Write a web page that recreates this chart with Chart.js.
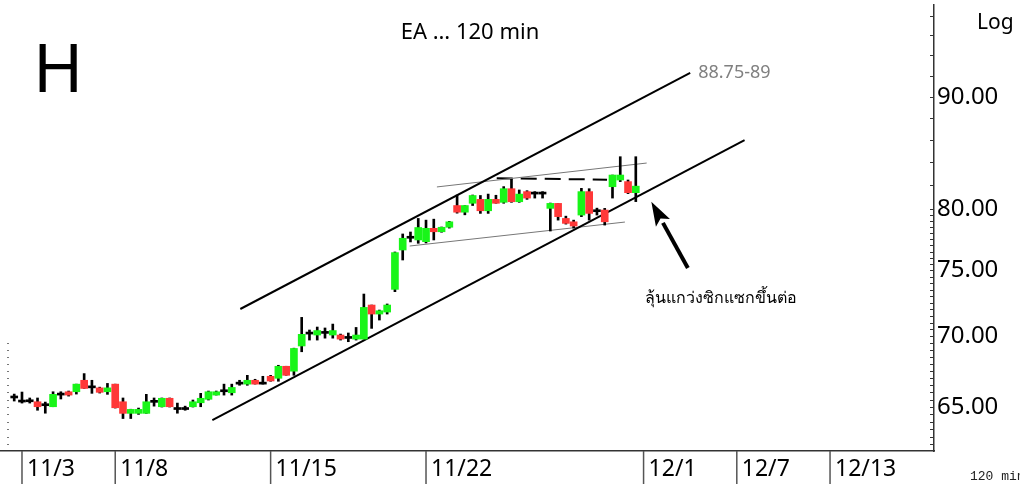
<!DOCTYPE html>
<html>
<head>
<meta charset="utf-8">
<script src="https://cdn.jsdelivr.net/npm/chart.js@4.4.0/dist/chart.umd.min.js"></script>
<style>
    html, body { margin: 0; padding: 0; background: #fff; }
    #wrap { position: relative; width: 1020px; height: 484px; }
</style>
</head>
<body>
<div id="wrap"><canvas id="chart"></canvas></div>
<script>
// EA 120 min bars, one value per bar (bar index = position in array)
const opens = [
    65.61, 65.33, 65.35, 65.35, 65.08, 65.01, 65.81, 66.04, 66.04, 66.84,
    66.31, 66.31, 66.04, 66.57, 65.35, 64.56, 64.56, 64.56, 65.31, 65.01,
    65.59, 64.82, 64.82, 65.01, 65.28, 65.52, 65.81, 66.04, 65.97, 66.57,
    66.57, 66.84, 66.57, 67.12, 66.98, 67.83, 67.48, 69.29, 70.16, 70.09,
    70.21, 70.09, 70.09, 69.84, 69.79, 69.79, 72.33, 71.65, 71.80, 73.53,
    76.63, 77.58, 77.44, 77.30, 78.39, 78.11, 78.48, 80.29, 79.73, 80.48,
    80.81, 79.85, 80.81, 80.56, 81.72, 80.61, 81.47, 81.26, 81.26, 80.05,
    80.47, 79.21, 78.93, 79.49, 81.47, 79.77, 79.91, 81.89, 82.47, 82.33,
    81.38
];
const highs = [
    65.88, 66.02, 65.61, 65.61, 65.33, 66.04, 66.04, 66.09, 66.57, 67.31,
    66.84, 66.36, 66.62, 66.57, 65.61, 64.84, 64.92, 65.86, 65.61, 65.61,
    65.61, 65.26, 65.05, 65.47, 65.93, 66.09, 66.09, 66.57, 66.57, 66.84,
    67.19, 66.91, 67.12, 67.19, 67.90, 67.83, 69.13, 71.40, 70.46, 70.68,
    70.61, 70.90, 70.16, 70.24, 70.65, 73.17, 72.33, 71.95, 72.41, 76.47,
    77.93, 78.09, 79.21, 79.07, 79.15, 78.50, 78.97, 81.18, 80.29, 81.18,
    81.14, 81.26, 81.16, 81.90, 82.53, 81.61, 81.55, 81.47, 81.47, 80.50,
    80.47, 79.40, 79.07, 81.75, 81.72, 80.07, 80.05, 82.90, 84.51, 82.47,
    84.51
];
const lows = [
    65.40, 65.26, 65.26, 64.77, 64.57, 65.01, 65.54, 65.74, 65.88, 66.27,
    65.93, 65.95, 65.86, 64.92, 64.21, 64.21, 64.49, 64.56, 65.05, 64.99,
    64.99, 64.57, 64.77, 64.99, 65.01, 65.47, 65.81, 65.81, 65.81, 66.49,
    66.49, 66.57, 66.57, 66.77, 66.77, 67.19, 67.19, 68.87, 69.72, 69.72,
    69.86, 69.86, 69.72, 69.60, 69.72, 69.79, 70.58, 71.20, 71.65, 73.35,
    75.83, 77.28, 77.17, 77.20, 77.44, 78.07, 78.41, 79.65, 79.51, 80.29,
    79.63, 79.63, 80.48, 80.48, 80.56, 80.56, 80.81, 80.92, 80.92, 78.17,
    79.07, 78.74, 78.41, 79.36, 79.07, 79.49, 78.66, 80.92, 82.33, 81.30,
    80.62
];
const closes = [
    65.61, 65.33, 65.35, 65.01, 65.08, 65.86, 65.81, 65.81, 66.57, 66.27,
    66.31, 66.00, 66.31, 64.94, 64.56, 64.83, 64.83, 65.35, 65.31, 65.59,
    65.01, 64.82, 64.82, 65.35, 65.59, 66.04, 66.04, 66.04, 66.34, 66.57,
    66.84, 66.57, 66.57, 66.79, 67.83, 67.19, 69.11, 70.14, 70.16, 70.42,
    70.21, 70.42, 69.79, 69.84, 70.09, 72.15, 71.65, 71.90, 72.33, 76.42,
    77.58, 77.58, 78.46, 78.39, 78.11, 78.48, 78.93, 79.73, 80.29, 81.14,
    79.85, 80.81, 80.48, 81.72, 80.61, 81.26, 80.92, 81.26, 81.26, 80.47,
    79.36, 78.80, 78.58, 81.47, 79.63, 79.77, 78.93, 82.90, 82.90, 81.38,
    81.94
];

// date separators under the x axis (bar index where the day starts)
const dateTicks = [1, 13, 33, 53, 81, 93, 105];
const dateLabels = ['11/3', '11/8', '11/15', '11/22', '12/1', '12/7', '12/13'];

// price axis (log)
const priceTicks = [65, 70, 75, 80, 90];
const minorTicks = [];
for (let v = 62.5; v < 80; v += 0.5) minorTicks.push(v);
for (let v = 80; v <= 98; v += 2) minorTicks.push(v);

// drawn lines, [bar index, price]
const channelTop = [[29.1, 72.03], [87.0, 92.27]];
const channelBottom = [[25.5, 64.10], [94.0, 86.00]];
const thinTop = [[54.4, 81.87], [81.4, 83.95]];
const thinBottom = [[50.9, 76.95], [78.6, 78.91]];
const dashedTop = [[62.1, 82.62], [76.3, 82.50]];
const arrowPts = [[86.7, 75.2], [82.0, 80.6]];

const GREEN = '#19f519';
const RED = '#ff3838';

function toPoints(arr) {
    return arr.map(p => ({ x: p[0], y: p[1] }));
}

const bodies = opens.map((o, i) => ({ x: i, y: [o, closes[i]] }));
const bodyColors = opens.map((o, i) => closes[i] > o ? GREEN : (closes[i] < o ? RED : '#000'));
const wicks = lows.map((l, i) => ({ x: i, y: [l, highs[i]] }));

// extra drawing: minor ticks, arrow, texts, date axis
const decorPlugin = {
    id: 'decor',
    afterDraw(chart) {
        const ctx = chart.ctx;
        const xs = chart.scales.x;
        const ys = chart.scales.y;
        const area = chart.chartArea;
        ctx.save();

        // minor ticks on the price axis (inside) and small marks at left edge
        ctx.lineWidth = 1;
        minorTicks.forEach(v => {
            const py = Math.round(ys.getPixelForValue(v)) + 0.5;
            ctx.strokeStyle = '#333';
            ctx.beginPath();
            ctx.moveTo(area.right - 4, py);
            ctx.lineTo(area.right, py);
            ctx.stroke();
            if (v < 70) {
                ctx.strokeStyle = '#777';
                ctx.beginPath();
                ctx.moveTo(7, py);
                ctx.lineTo(9, py);
                ctx.stroke();
            }
        });

        // date separators and labels
        ctx.strokeStyle = '#555';
        ctx.lineWidth = 1.5;
        ctx.fillStyle = '#000';
        ctx.font = '23px "Noto Sans", sans-serif';
        ctx.textAlign = 'left';
        ctx.textBaseline = 'middle';
        dateTicks.forEach((t, i) => {
            const px = xs.getPixelForValue(t);
            ctx.beginPath();
            ctx.moveTo(px, area.bottom);
            ctx.lineTo(px, chart.height);
            ctx.stroke();
            ctx.fillText(dateLabels[i], px + 5, area.bottom + 18);
        });

        // arrow
        const tx = xs.getPixelForValue(arrowPts[0][0]);
        const ty = ys.getPixelForValue(arrowPts[0][1]);
        const hx = xs.getPixelForValue(arrowPts[1][0]);
        const hy = ys.getPixelForValue(arrowPts[1][1]);
        const ang = Math.atan2(hy - ty, hx - tx);
        const headLen = 24, headW = 8;
        const bx = hx - headLen * Math.cos(ang);
        const by = hy - headLen * Math.sin(ang);
        ctx.strokeStyle = '#000';
        ctx.lineWidth = 4;
        ctx.beginPath();
        ctx.moveTo(tx, ty);
        ctx.lineTo(bx, by);
        ctx.stroke();
        ctx.fillStyle = '#000';
        ctx.beginPath();
        ctx.moveTo(hx, hy);
        ctx.lineTo(bx + headW * Math.sin(ang), by - headW * Math.cos(ang));
        ctx.lineTo(bx + 5 * Math.cos(ang), by + 5 * Math.sin(ang));
        ctx.lineTo(bx - headW * Math.sin(ang), by + headW * Math.cos(ang));
        ctx.closePath();
        ctx.fill();

        // texts
        ctx.fillStyle = '#000';
        ctx.textBaseline = 'alphabetic';
        ctx.font = '68px "Noto Sans", sans-serif';
        ctx.fillText('H', 33, 92);

        ctx.textAlign = 'center';
        ctx.font = '22px "Noto Sans", sans-serif';
        ctx.fillText('EA … 120 min', 470, 39);

        ctx.textAlign = 'left';
        ctx.font = '21px "Noto Sans", sans-serif';
        ctx.fillText('Log', 977, 29);

        const ex = xs.getPixelForValue(channelTop[1][0]);
        const ey = ys.getPixelForValue(channelTop[1][1]);
        ctx.fillStyle = '#808080';
        ctx.font = '18px "Noto Sans", sans-serif';
        ctx.textBaseline = 'middle';
        ctx.fillText('88.75-89', ex + 8, ey);

        ctx.fillStyle = '#000';
        ctx.font = '16px "Noto Sans", sans-serif';
        ctx.fillText('ลุ้นแกว่งซิกแซกขึ้นต่อ', tx - 43, ty + 30);

        ctx.textBaseline = 'alphabetic';
        ctx.fillStyle = '#222';
        ctx.font = '13px "Liberation Mono", monospace';
        ctx.fillText('120 min', 970, 480);

        ctx.restore();
    }
};

new Chart(document.getElementById('chart').getContext('2d'), {
    type: 'bar',
    data: {
        datasets: [
            {
                label: 'body',
                data: bodies,
                backgroundColor: bodyColors,
                barThickness: 7,
                minBarLength: 2,
                grouped: false
            },
            {
                label: 'wick',
                data: wicks,
                backgroundColor: '#000',
                barThickness: 2,
                grouped: false
            },
            {
                type: 'line',
                data: toPoints(channelTop),
                borderColor: '#000',
                borderWidth: 2,
                pointRadius: 0
            },
            {
                type: 'line',
                data: toPoints(channelBottom),
                borderColor: '#000',
                borderWidth: 2,
                pointRadius: 0
            },
            {
                type: 'line',
                data: toPoints(thinTop),
                borderColor: '#777',
                borderWidth: 1,
                pointRadius: 0
            },
            {
                type: 'line',
                data: toPoints(thinBottom),
                borderColor: '#777',
                borderWidth: 1,
                pointRadius: 0
            },
            {
                type: 'line',
                data: toPoints(dashedTop),
                borderColor: '#000',
                borderWidth: 2,
                borderDash: [16, 8],
                pointRadius: 0
            }
        ]
    },
    options: {
        responsive: true,
        maintainAspectRatio: false,
        animation: false,
        layout: { padding: { top: 5, left: 0, right: 0, bottom: 0 } },
        plugins: {
            legend: { display: false },
            tooltip: { enabled: false }
        },
        scales: {
            x: {
                type: 'linear',
                min: -1.83,
                max: 118.38,
                offset: false,
                ticks: { display: false },
                grid: { display: false },
                border: { display: true, color: '#333', width: 1.5 },
                afterFit: s => { s.height = 33; s.paddingLeft = 0; s.paddingRight = 0; }
            },
            y: {
                type: 'logarithmic',
                position: 'right',
                min: 62.06,
                max: 99.09,
                afterBuildTicks: s => { s.ticks = priceTicks.map(v => ({ value: v })); },
                ticks: {
                    callback: v => Number(v).toFixed(2),
                    color: '#000',
                    font: { family: 'Noto Sans', size: 24 },
                    padding: 3
                },
                grid: { drawOnChartArea: false, drawTicks: false },
                border: { display: true, color: '#333', width: 1.5 },
                afterFit: s => { s.width = 86; s.paddingTop = 0; s.paddingBottom = 0; }
            }
        }
    },
    plugins: [decorPlugin]
});
</script>
</body>
</html>
